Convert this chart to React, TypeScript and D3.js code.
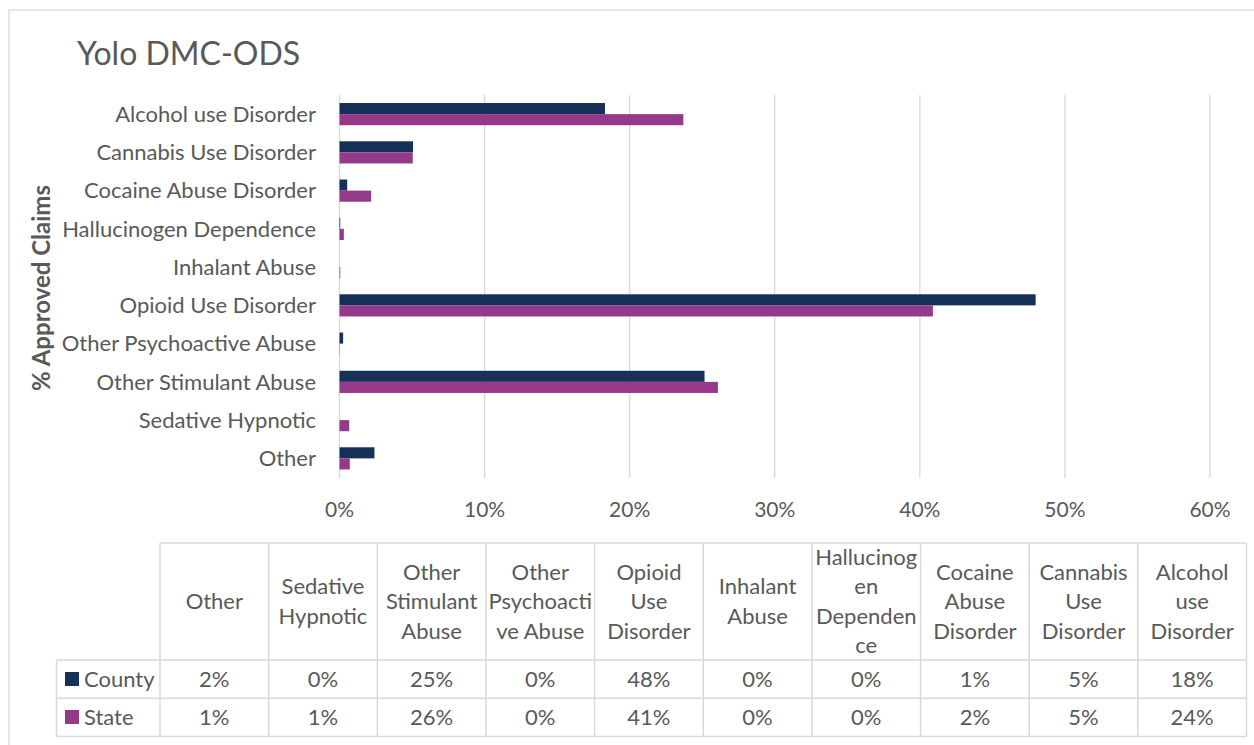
import React from "react";
import * as d3 from "d3";

const categories = [
  "Alcohol use Disorder",
  "Cannabis Use Disorder",
  "Cocaine Abuse Disorder",
  "Hallucinogen Dependence",
  "Inhalant Abuse",
  "Opioid Use Disorder",
  "Other Psychoactive Abuse",
  "Other Stimulant Abuse",
  "Sedative Hypnotic",
  "Other",
];
const countyValues = [18.3, 5.07, 0.53, 0.05, 0, 47.98, 0.25, 25.16, 0, 2.41];
const stateValues = [23.7, 5.05, 2.18, 0.3, 0.05, 40.9, 0.02, 26.08, 0.67, 0.71];

const tableHeaders = [
  ["Other"],
  ["Sedative", "Hypnotic"],
  ["Other", "Stimulant", "Abuse"],
  ["Other", "Psychoacti", "ve Abuse"],
  ["Opioid", "Use", "Disorder"],
  ["Inhalant", "Abuse"],
  ["Hallucinog", "en", "Dependen", "ce"],
  ["Cocaine", "Abuse", "Disorder"],
  ["Cannabis", "Use", "Disorder"],
  ["Alcohol", "use", "Disorder"],
];
const countyLabels = ["2%", "0%", "25%", "0%", "48%", "0%", "0%", "1%", "5%", "18%"];
const stateLabels = ["1%", "1%", "26%", "0%", "41%", "0%", "0%", "2%", "5%", "24%"];
const xTicks = [0, 10, 20, 30, 40, 50, 60];

const COUNTY = "#17305A";
const STATE = "#953A8A";
const TEXT = "#595959";
const GRID = "#D9D9D9";
const FONT = "Lato, 'Open Sans', sans-serif";

export default function App() {
  const W = 1254, H = 745;
  const x = d3.scaleLinear().domain([0, 60]).range([339.5, 1210]);
  const y = d3.scaleBand().domain(categories).range([95, 477.5]).paddingInner(0.42).paddingOuter(0.21);
  const sub = d3.scaleBand().domain(["county", "state"]).range([0, y.bandwidth()]);

  const tLeft = 160, tRight = 1246.5, tTop = 543, hBottom = 660, r1 = 698.3, r2 = 736.6, legLeft = 56.5;
  const colW = (tRight - tLeft) / tableHeaders.length;

  return (
    <svg width={W} height={H} style={{ position: "absolute", left: 0, top: 0, fontFamily: FONT }}>
      <rect x={0} y={0} width={W} height={H} fill="#fff" />
      <rect x={9} y={10} width={1250} height={760} fill="#fff" stroke={GRID} strokeWidth={1.3} />
      <text x={77} y={65} fontSize={32} fill={TEXT}>Yolo DMC-ODS</text>

      {xTicks.map((t) => (
        <g key={t}>
          <line x1={x(t)} x2={x(t)} y1={95} y2={478} stroke={GRID} strokeWidth={1.3} />
          <text x={x(t)} y={517} fontSize={21} fill={TEXT} textAnchor="middle">{t}%</text>
        </g>
      ))}

      {categories.map((c, i) => (
        <g key={c}>
          <rect x={x(0)} y={(y(c) as number) + (sub("county") as number)} width={x(countyValues[i]) - x(0)} height={sub.bandwidth()} fill={COUNTY} />
          <rect x={x(0)} y={(y(c) as number) + (sub("state") as number)} width={x(stateValues[i]) - x(0)} height={sub.bandwidth()} fill={STATE} />
          <text x={316} y={(y(c) as number) + y.bandwidth() / 2} dy="0.35em" fontSize={22} fill={TEXT} textAnchor="end">{c}</text>
        </g>
      ))}

      <text transform={`translate(50,288) rotate(-90)`} fontSize={24} fontWeight="bold" fill={TEXT} textAnchor="middle">% Approved Claims</text>

      {/* table */}
      <g stroke={GRID} strokeWidth={1.5} fill="none">
        <line x1={tLeft} x2={tRight} y1={tTop} y2={tTop} />
        <line x1={legLeft} x2={tRight} y1={hBottom} y2={hBottom} />
        <line x1={legLeft} x2={tRight} y1={r1} y2={r1} />
        <line x1={legLeft} x2={tRight} y1={r2} y2={r2} />
        <line x1={legLeft} x2={legLeft} y1={hBottom} y2={r2} />
        {d3.range(tableHeaders.length + 1).map((k) => (
          <line key={k} x1={tLeft + k * colW} x2={tLeft + k * colW} y1={tTop} y2={r2} />
        ))}
      </g>
      {tableHeaders.map((lines, k) => {
        const cx = tLeft + (k + 0.5) * colW;
        const lh = 29.5;
        const mid = (tTop + hBottom) / 2;
        const start = mid - ((lines.length - 1) * lh) / 2;
        return (
          <g key={k}>
            {lines.map((ln, j) => (
              <text key={j} x={cx} y={start + j * lh} dy="0.35em" fontSize={22} fill={TEXT} textAnchor="middle">{ln}</text>
            ))}
            <text x={cx} y={(hBottom + r1) / 2} dy="0.35em" fontSize={22} fill={TEXT} textAnchor="middle">{countyLabels[k]}</text>
            <text x={cx} y={(r1 + r2) / 2} dy="0.35em" fontSize={22} fill={TEXT} textAnchor="middle">{stateLabels[k]}</text>
          </g>
        );
      })}
      <rect x={65} y={672} width={14} height={14} fill={COUNTY} />
      <text x={84} y={(hBottom + r1) / 2} dy="0.35em" fontSize={22} fill={TEXT}>County</text>
      <rect x={65} y={710} width={14} height={14} fill={STATE} />
      <text x={84} y={(r1 + r2) / 2} dy="0.35em" fontSize={22} fill={TEXT}>State</text>
    </svg>
  );
}
